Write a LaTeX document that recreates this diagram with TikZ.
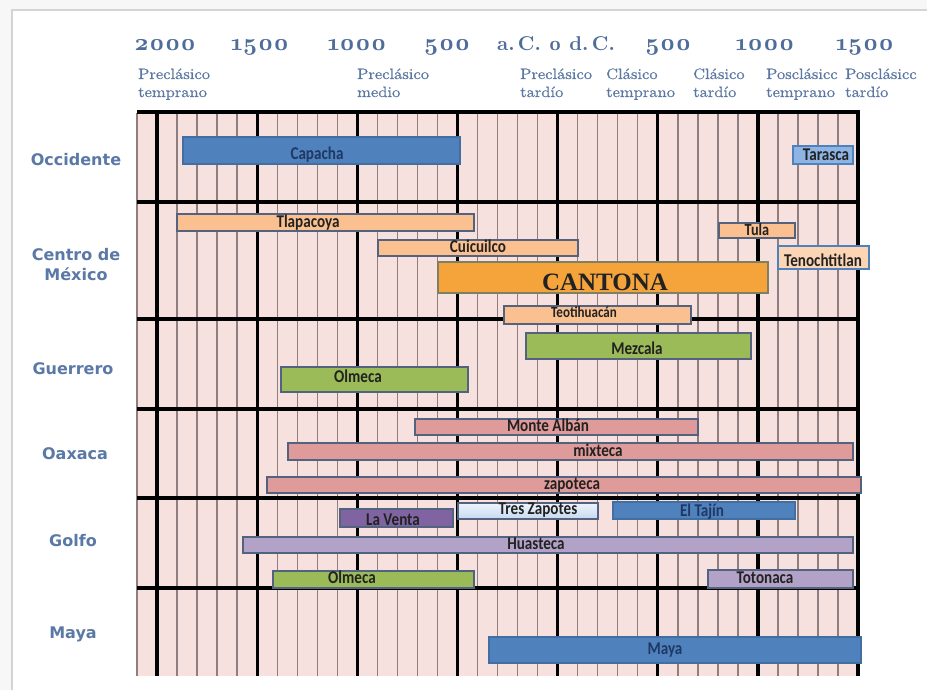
\documentclass[tikz,border=0pt]{standalone}
\usepackage{fontspec}
\newfontfamily\carlito{Carlito}[FakeStretch=0.84]
\newfontfamily\dejavu{DejaVu Sans}
\newfontfamily\libserif{Liberation Serif}
\newfontfamily\osfnum{lmroman10-bold.otf}[Numbers=OldStyle]
\newfontfamily\lmper{lmroman10-regular.otf}[FakeStretch=1.1,FakeBold=0.6]
\definecolor{gridbg}{HTML}{F6E1DF}
\definecolor{thinc}{HTML}{8E7E7F}
\definecolor{hdrc}{HTML}{4F6D9B}
\definecolor{perc}{HTML}{5B78A4}
\definecolor{rowc}{HTML}{5A79A6}
\definecolor{barblue}{HTML}{4F81BD}
\definecolor{lblue}{HTML}{8DB4E2}
\definecolor{peach}{HTML}{FAC090}
\definecolor{lpeach}{HTML}{FCD5B4}
\definecolor{orng}{HTML}{F5A43C}
\definecolor{cantbd}{HTML}{7F7F63}
\definecolor{grn}{HTML}{9BBB59}
\definecolor{pnk}{HTML}{DE9B99}
\definecolor{purp}{HTML}{8064A2}
\definecolor{lav}{HTML}{B3A2C7}
\definecolor{tzb}{HTML}{C5D9F1}
\definecolor{bordc}{HTML}{52627F}
\definecolor{txtc}{HTML}{222222}
\definecolor{navyt}{HTML}{1F3864}
\definecolor{framec}{HTML}{D4D4D4}
\definecolor{outc}{HTML}{F7F7F7}
\tikzset{
  thinl/.style={draw=thinc, line width=1.4pt},
  thickl/.style={draw=black, line width=3.2pt},
  lbl/.style={font=\carlito\bfseries\fontsize{18}{18}\selectfont, text=txtc, inner sep=0pt, anchor=base},
  rowlbl/.style={font=\dejavu\bfseries\fontsize{16}{20}\selectfont, text=rowc, align=center, inner sep=0pt},
  numlbl/.style={font=\osfnum\fontsize{24}{24}\selectfont, text=hdrc, inner sep=0pt, anchor=base},
  eralbl/.style={font=\osfnum\fontsize{20}{20}\selectfont, text=hdrc, inner sep=0pt, anchor=base},
  perlbl/.style={font=\lmper\fontsize{15}{15}\selectfont, text=perc, inner sep=0pt, anchor=base west},
  bb/.style={line width=1.5pt, draw=bordc},
  blueb/.style={fill=barblue, draw=barblue!85!black, line width=1.5pt},
  tarb/.style={fill=lblue, draw=barblue, line width=1.5pt},
  peachb/.style={bb, fill=peach},
  tenb/.style={fill=lpeach, draw=barblue, line width=1.5pt},
  cantb/.style={fill=orng, draw=cantbd, line width=2pt},
  greenb/.style={bb, fill=grn},
  pinkb/.style={bb, fill=pnk},
  purpb/.style={bb, fill=purp},
  lavb/.style={bb, fill=lav},
  tzbar/.style={bb, top color=white!70!tzb, bottom color=tzb},
}
% name, x1, y1, x2, y2, bar style, label x, baseline offset from bar centre, text
\newcommand\cbar[9]{%
  \path[#6] (#2,#3) rectangle (#4,#5);
  \node[lbl] (#1) at (#7,{(#3+#5)/2+#8}) {#9};}
\begin{document}
\begin{tikzpicture}[x=1pt,y=-1pt]
\useasboundingbox (0,0) rectangle (927,690);
% page frame with faint shadow
\fill[outc] (0,0) rectangle (927,690);
\fill[white] (12,10) rectangle (927,690);
\draw[framec, line width=1.6pt] (12,690) -- (12,10) -- (927,10);
% grid
\fill[gridbg] (137,112) rectangle (858,676);
\foreach \k in {0,...,35} \draw[thinl] ({137+20.03*\k},113) -- ({137+20.03*\k},676);
\foreach \k in {1,6,11,16,21,26,31,36} \draw[thickl] ({137+20.03*\k},110.4) -- ({137+20.03*\k},676);
\foreach \yy in {112,202,319,409,498,588} \draw[thickl] (137,\yy) -- (859.7,\yy);
% header numbers
\node[numlbl] (n2000) at (165,51) {2000};
\node[numlbl] (n1500a) at (260,51) {1500};
\node[numlbl] (n1000a) at (357,51) {1000};
\node[numlbl] (n500a) at (447,51) {500};
\node[eralbl] (nzero) at (556,51) {a.\,C. \oldstylenums{0} d.\,C.};
\node[numlbl] (n500d) at (668,51) {500};
\node[numlbl] (n1000d) at (765,51) {1000};
\node[numlbl] (n1500d) at (865,51) {1500};
% period labels
\node[perlbl] (p1a) at (138,79) {Preclásico};
\node[perlbl] (p1b) at (138,97) {temprano};
\node[perlbl] (p2a) at (357,79) {Preclásico};
\node[perlbl] (p2b) at (357,97) {medio};
\node[perlbl] (p3a) at (520,79) {Preclásico};
\node[perlbl] (p3b) at (520,97) {tardío};
\node[perlbl] (p4a) at (606,79) {Clásico};
\node[perlbl] (p4b) at (606,97) {temprano};
\node[perlbl] (p5a) at (693,79) {Clásico};
\node[perlbl] (p5b) at (693,97) {tardío};
\node[perlbl] (p6a) at (766,79) {Posclásicc};
\node[perlbl] (p6b) at (766,97) {temprano};
\node[perlbl] (p7a) at (845,79) {Posclásicc};
\node[perlbl] (p7b) at (845,97) {tardío};
% row labels
\node[rowlbl] (rocc) at (76,160) {Occidente};
\node[rowlbl] (rcen) at (76,265) {Centro de\\México};
\node[rowlbl] (rgue) at (73,369) {Guerrero};
\node[rowlbl] (roax) at (75,454) {Oaxaca};
\node[rowlbl] (rgol) at (73,541) {Golfo};
\node[rowlbl] (rmay) at (73,634) {Maya};
% bars
\cbar{capacha}{183}{137}{460}{164}{blueb}{317}{9}{\color{navyt}Capacha}
\cbar{tarasca}{793}{146}{853}{164}{tarb}{826}{5.5}{Tarasca}
\cbar{tlapacoya}{177}{214}{474}{231}{peachb}{308}{4.8}{Tlapacoya}
\cbar{cuicuilco}{378}{240}{578}{256}{peachb}{478}{4.5}{Cuicuilco}
\path[cantb] (438,262) rectangle (768,293);
\node[font=\libserif\bfseries\fontsize{25}{25}\selectfont, text=txtc, inner sep=0pt, anchor=base] (cantona) at (605,290) {CANTONA};
\cbar{teoti}{504}{306}{691}{324}{peachb}{584}{2.5}{\fontsize{15.5}{15.5}\selectfont Teotihuacán}
\cbar{tula}{719}{223}{795}{238}{peachb}{757}{5}{\fontsize{17}{17}\selectfont Tula}
\cbar{tenoch}{778}{246}{869}{269}{tenb}{823}{8.5}{Tenochtitlan}
\cbar{mezcala}{526}{333}{751}{359}{greenb}{637}{8.5}{Mezcala}
\cbar{olmecag}{281}{367}{468}{392}{greenb}{358}{3}{Olmeca}
\cbar{montealban}{415}{419}{698}{435}{pinkb}{548}{4.3}{Monte Albán}
\cbar{mixteca}{288}{443}{853}{460}{pinkb}{598}{5}{mixteca}
\cbar{zapoteca}{267}{477}{861}{493}{pinkb}{572}{4.8}{zapoteca}
\cbar{treszap}{458}{503}{598}{519}{tzbar}{538}{3.5}{Tres Zapotes}
\cbar{eltajin}{613}{502}{795}{519}{blueb}{702}{6}{\color{navyt}El Tajín}
\cbar{laventa}{340}{509}{453}{527}{purpb}{393}{7.5}{La Venta}
\cbar{huasteca}{243}{537}{853}{553}{lavb}{536}{4.8}{Huasteca}
\cbar{olmecagolfo}{273}{571}{474}{588}{greenb}{352}{4.3}{Olmeca}
\cbar{totonaca}{708}{570}{853}{588}{lavb}{765}{4.8}{Totonaca}
\cbar{maya}{489}{637}{861}{663}{blueb}{665}{4}{\color{navyt}Maya}
\end{tikzpicture}
\end{document}
